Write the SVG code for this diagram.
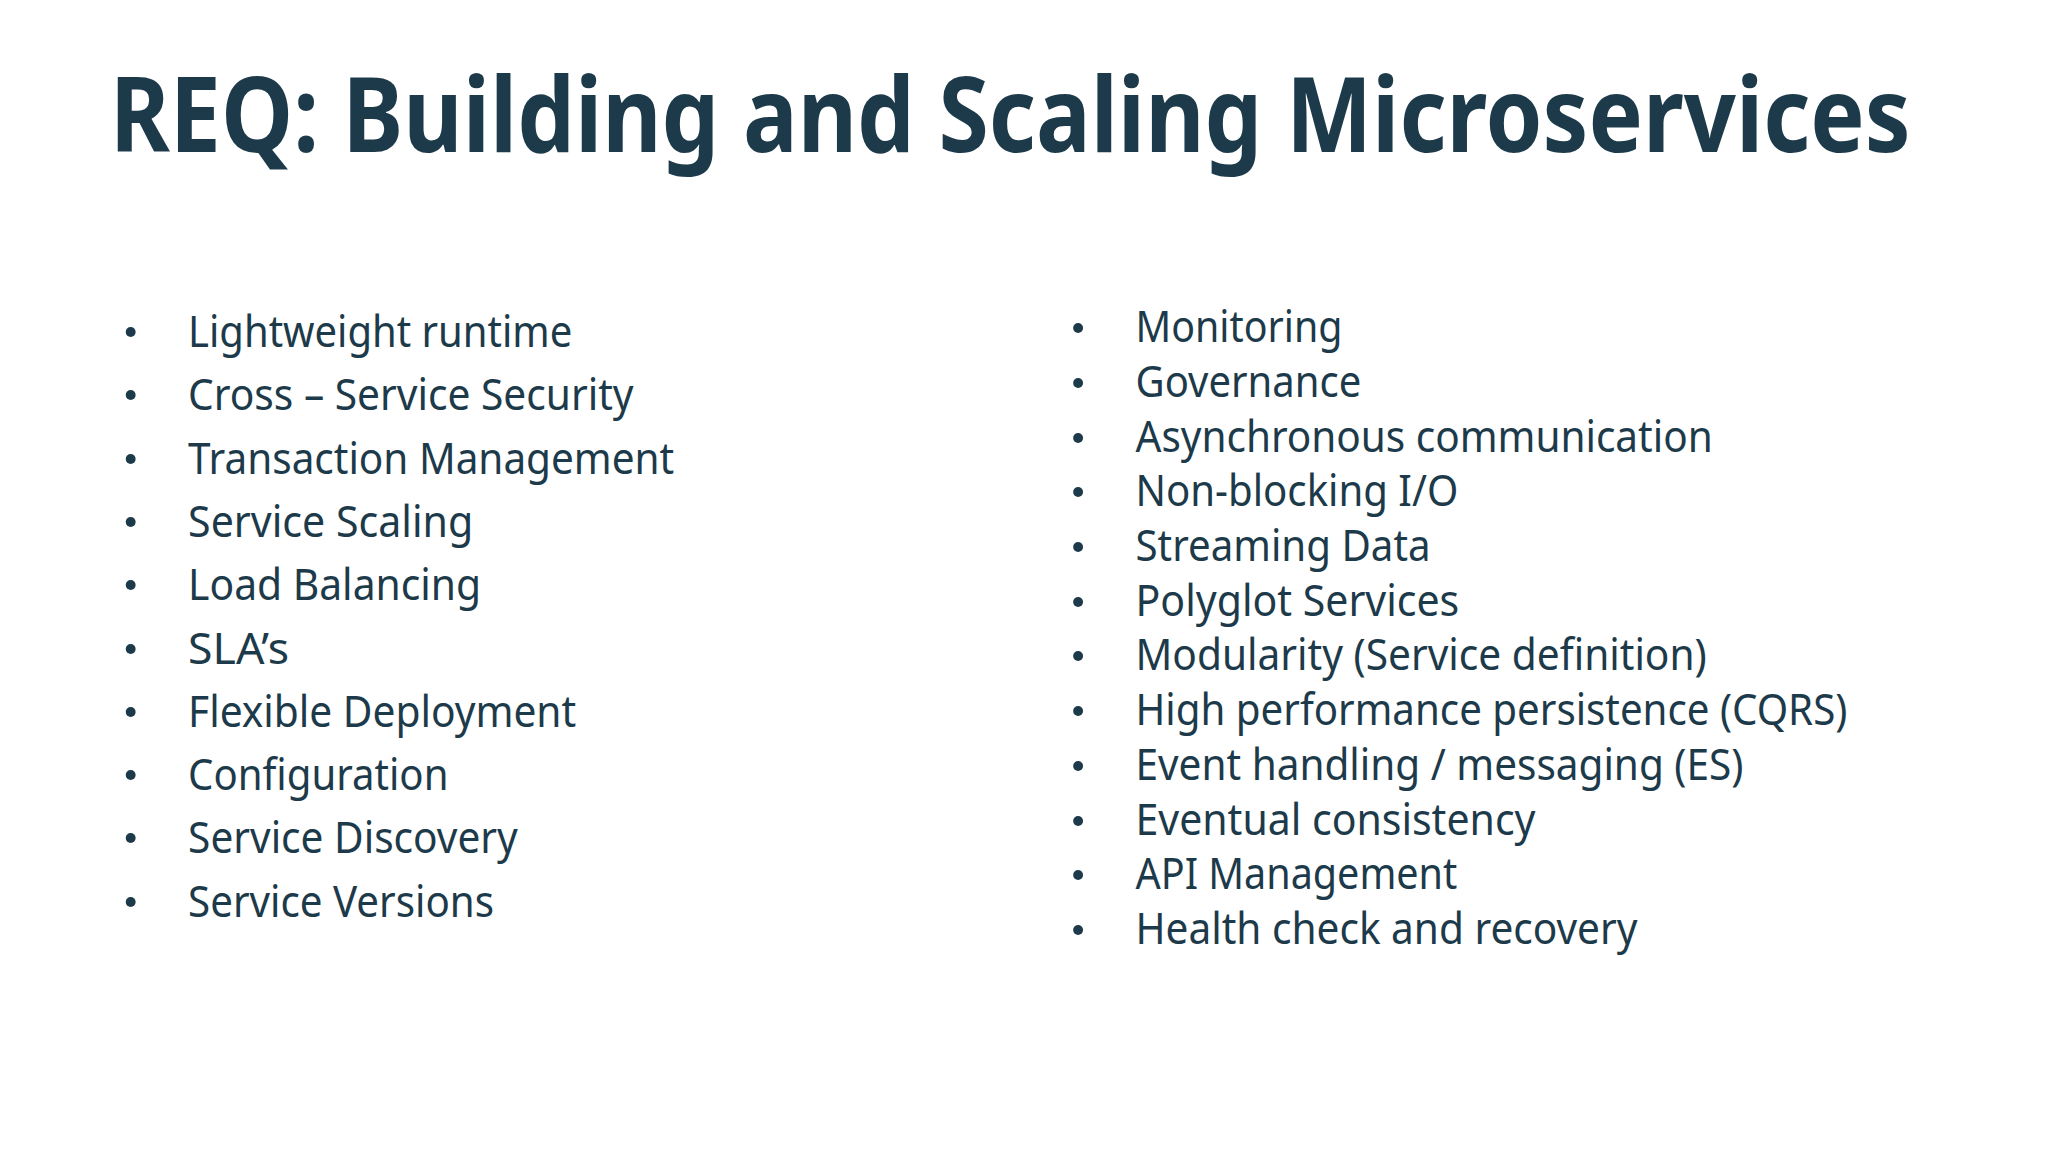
<svg xmlns="http://www.w3.org/2000/svg" width="2048" height="1152" viewBox="0 0 2048 1152">
<style>
text{fill:#1d3a4a;font-family:"Noto Sans","Open Sans",sans-serif}
.t{font-size:104px;font-weight:700}
.i{font-size:43px}
</style>
<rect width="2048" height="1152" fill="#ffffff"/>
<g transform="scale(0.99,1)">
<g id="title"><text class="t" x="111" y="152" textLength="1819" lengthAdjust="spacingAndGlyphs">REQ: Building and Scaling Microservices</text></g>
<g id="left-list">
<g fill="#1d3a4a"><circle cx="132" cy="332" r="5"/><circle cx="132" cy="395" r="5"/><circle cx="132" cy="459" r="5"/><circle cx="132" cy="522" r="5"/><circle cx="132" cy="585" r="5"/><circle cx="132" cy="649" r="5"/><circle cx="132" cy="712" r="5"/><circle cx="132" cy="775" r="5"/><circle cx="132" cy="838" r="5"/><circle cx="132" cy="902" r="5"/></g>
<text class="i" x="190" y="347" textLength="388" lengthAdjust="spacingAndGlyphs">Lightweight runtime</text>
<text class="i" x="190" y="410" textLength="450" lengthAdjust="spacingAndGlyphs">Cross – Service Security</text>
<text class="i" x="190" y="474" textLength="491" lengthAdjust="spacingAndGlyphs">Transaction Management</text>
<text class="i" x="190" y="537" textLength="288" lengthAdjust="spacingAndGlyphs">Service Scaling</text>
<text class="i" x="190" y="600" textLength="296" lengthAdjust="spacingAndGlyphs">Load Balancing</text>
<text class="i" x="190" y="664" textLength="102" lengthAdjust="spacingAndGlyphs">SLA’s</text>
<text class="i" x="190" y="727" textLength="392" lengthAdjust="spacingAndGlyphs">Flexible Deployment</text>
<text class="i" x="190" y="790" textLength="263" lengthAdjust="spacingAndGlyphs">Configuration</text>
<text class="i" x="190" y="853" textLength="333" lengthAdjust="spacingAndGlyphs">Service Discovery</text>
<text class="i" x="190" y="917" textLength="309" lengthAdjust="spacingAndGlyphs">Service Versions</text>
</g>
<g id="right-list">
<g fill="#1d3a4a"><circle cx="1089" cy="328" r="5"/><circle cx="1089" cy="383" r="5"/><circle cx="1089" cy="438" r="5"/><circle cx="1089" cy="492" r="5"/><circle cx="1089" cy="547" r="5"/><circle cx="1089" cy="602" r="5"/><circle cx="1089" cy="656" r="5"/><circle cx="1089" cy="711" r="5"/><circle cx="1089" cy="766" r="5"/><circle cx="1089" cy="821" r="5"/><circle cx="1089" cy="875" r="5"/><circle cx="1089" cy="930" r="5"/></g>
<text class="i" x="1147" y="342" textLength="209" lengthAdjust="spacingAndGlyphs">Monitoring</text>
<text class="i" x="1147" y="397" textLength="228" lengthAdjust="spacingAndGlyphs">Governance</text>
<text class="i" x="1147" y="452" textLength="583" lengthAdjust="spacingAndGlyphs">Asynchronous communication</text>
<text class="i" x="1147" y="506" textLength="326" lengthAdjust="spacingAndGlyphs">Non-blocking I/O</text>
<text class="i" x="1147" y="561" textLength="298" lengthAdjust="spacingAndGlyphs">Streaming Data</text>
<text class="i" x="1147" y="616" textLength="327" lengthAdjust="spacingAndGlyphs">Polyglot Services</text>
<text class="i" x="1147" y="670" textLength="577" lengthAdjust="spacingAndGlyphs">Modularity (Service definition)</text>
<text class="i" x="1147" y="725" textLength="719" lengthAdjust="spacingAndGlyphs">High performance persistence (CQRS)</text>
<text class="i" x="1147" y="780" textLength="614" lengthAdjust="spacingAndGlyphs">Event handling / messaging (ES)</text>
<text class="i" x="1147" y="835" textLength="404" lengthAdjust="spacingAndGlyphs">Eventual consistency</text>
<text class="i" x="1147" y="889" textLength="325" lengthAdjust="spacingAndGlyphs">API Management</text>
<text class="i" x="1147" y="944" textLength="507" lengthAdjust="spacingAndGlyphs">Health check and recovery</text>
</g>
</g>
</svg>
